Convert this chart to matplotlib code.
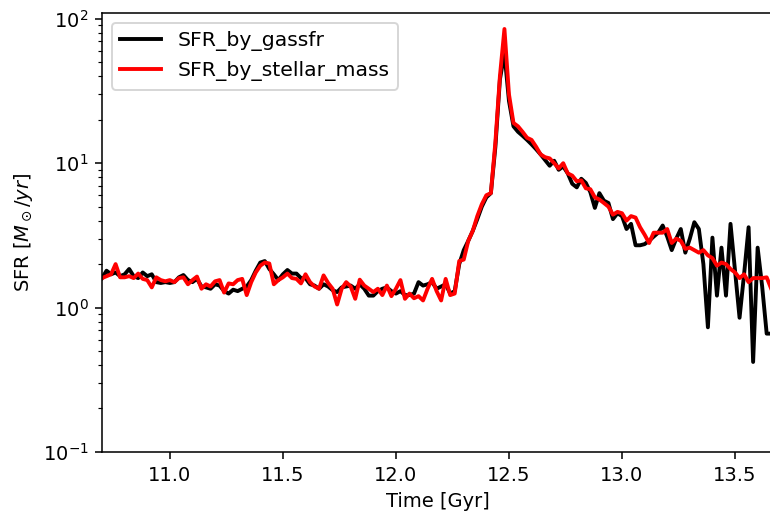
import numpy as np
import matplotlib
matplotlib.use("Agg")
import matplotlib.pyplot as plt

# simulation snapshots, 20 Myr apart
t_start = 10.70
t_step = 0.02

sfr_gassfr = [
    1.60, 1.80, 1.70, 1.75, 1.65, 1.70, 1.85, 1.65, 1.60, 1.75,
    1.65, 1.70, 1.50, 1.48, 1.50, 1.48, 1.50, 1.62, 1.68, 1.55,
    1.50, 1.58, 1.40, 1.38, 1.35, 1.45, 1.42, 1.30, 1.25, 1.33,
    1.30, 1.35, 1.40, 1.55, 1.80, 2.05, 2.10, 1.85, 1.70, 1.55,
    1.70, 1.82, 1.72, 1.72, 1.60, 1.60, 1.45, 1.42, 1.35, 1.45,
    1.40, 1.32, 1.28, 1.38, 1.40, 1.42, 1.35, 1.45, 1.35, 1.21,
    1.21, 1.30, 1.35, 1.38, 1.30, 1.25, 1.30, 1.22, 1.22, 1.25,
    1.50, 1.42, 1.45, 1.50, 1.35, 1.40, 1.45, 1.25, 1.30, 2.00,
    2.50, 2.90, 3.40, 4.10, 5.00, 5.80, 6.20, 13.0, 38.0, 58.0,
    27.0, 18.0, 16.5, 15.5, 14.5, 13.5, 12.5, 11.5, 10.5, 9.6,
    10.4, 9.0, 9.5, 8.5, 7.2, 6.8, 7.8, 7.3, 6.3, 4.9,
    6.2, 5.5, 5.3, 4.1, 4.5, 4.3, 3.5, 3.8, 2.7, 2.7,
    2.75, 2.9, 3.1, 3.3, 3.7, 3.1, 2.5, 3.0, 3.5, 2.4,
    3.0, 3.9, 3.5, 2.0, 0.73, 3.05, 1.21, 2.6, 1.21, 3.8,
    1.8, 0.85, 1.7, 3.6, 0.42, 2.6, 1.4, 0.66, 0.66, 1.10,
]

sfr_stellar_mass = [
    1.60, 1.65, 1.70, 2.00, 1.62, 1.62, 1.65, 1.60, 1.72, 1.58,
    1.55, 1.38, 1.62, 1.55, 1.52, 1.55, 1.50, 1.60, 1.62, 1.45,
    1.55, 1.64, 1.35, 1.45, 1.40, 1.52, 1.55, 1.27, 1.47, 1.45,
    1.55, 1.58, 1.22, 1.50, 1.75, 1.95, 2.05, 2.02, 1.45, 1.55,
    1.62, 1.72, 1.60, 1.58, 1.47, 1.70, 1.50, 1.40, 1.35, 1.67,
    1.48, 1.35, 1.05, 1.35, 1.50, 1.40, 1.15, 1.56, 1.42, 1.35,
    1.28, 1.35, 1.22, 1.42, 1.20, 1.35, 1.55, 1.15, 1.25, 1.16,
    1.20, 1.12, 1.35, 1.58, 1.30, 1.12, 1.58, 1.22, 1.25, 2.10,
    2.15, 2.90, 3.40, 4.30, 5.20, 6.00, 6.20, 14.0, 40.0, 85.0,
    30.0, 19.0, 18.0, 16.5, 15.0, 14.5, 13.0, 11.5, 11.0, 10.8,
    10.0, 9.2, 10.0, 8.5, 8.2, 7.5, 7.6, 6.7, 6.6, 5.8,
    5.6, 5.3, 5.0, 4.4, 4.6, 4.5, 4.0, 4.3, 4.2, 3.6,
    3.2, 2.8, 3.3, 3.3, 3.3, 3.5, 2.8, 3.0, 2.9, 2.55,
    2.6, 2.5, 2.4, 2.5, 2.3, 2.2, 1.95, 2.05, 2.0, 1.85,
    1.75, 1.6, 1.7, 1.5, 1.6, 1.6, 1.6, 1.62, 1.35, 1.15,
]

time = np.round(t_start + t_step * np.arange(len(sfr_gassfr)), 3)

fig = plt.figure(figsize=(5.5, 513 / 140), dpi=140)
ax = fig.add_axes([0.1325, 0.119, 0.872, 0.856])

ax.plot(time, sfr_gassfr, color="black", lw=2, label="SFR_by_gassfr")
ax.plot(time, sfr_stellar_mass, color="red", lw=2, label="SFR_by_stellar_mass")

ax.set_yscale("log")
ax.set_ylim(0.1, 110)
ax.set_xlim(10.70, 13.67)
ax.set_xlabel("Time [Gyr]")
ax.set_ylabel(r"SFR [$M_\odot/yr$]")
ax.legend(loc="upper left", fontsize=10.5)

fig.savefig("out.png", dpi=140)
